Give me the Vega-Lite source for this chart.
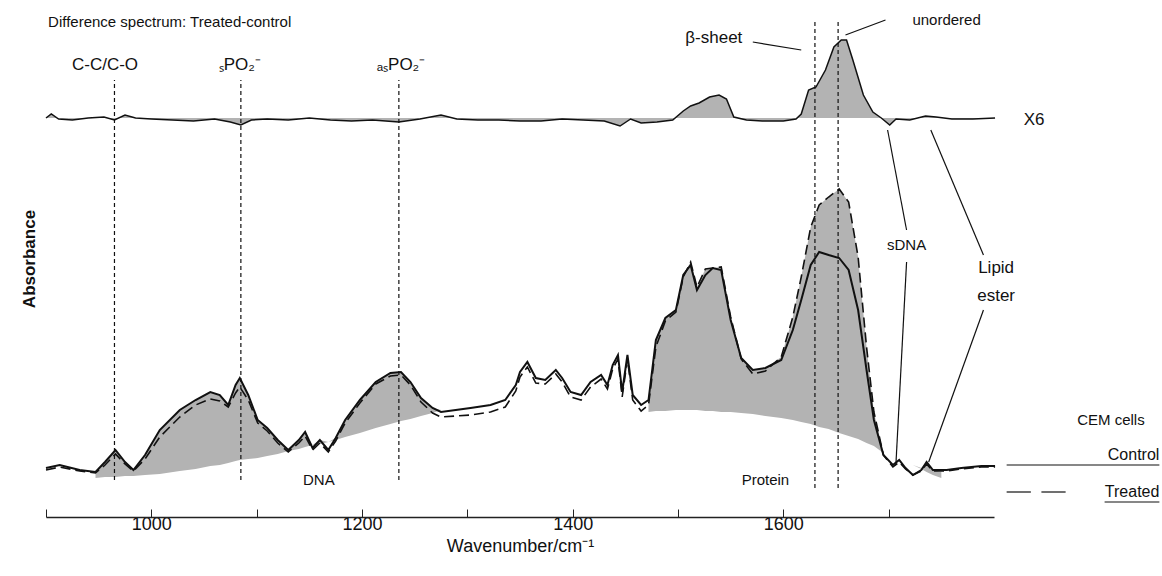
{
  "$schema": "https://vega.github.io/schema/vega-lite/v6.json",
  "width": 948,
  "height": 517,
  "autosize": "none",
  "padding": {"left": 46, "top": 0, "right": 168, "bottom": 59},
  "background": "white",
  "config": {"view": {"stroke": null}, "font": "Liberation Sans"},
  "datasets": {
    "control": [
      {"w":900,"v":49},{"w":913,"v":52},{"w":932,"v":47},{"w":947,"v":45},{"w":956,"v":55},{"w":966,"v":67},{"w":975,"v":55},{"w":983,"v":47},{"w":994,"v":62},{"w":1008,"v":87},{"w":1027,"v":107},{"w":1042,"v":117},{"w":1056,"v":125},{"w":1065,"v":122},{"w":1073,"v":112},{"w":1080,"v":132},{"w":1084,"v":139},{"w":1092,"v":122},{"w":1101,"v":97},{"w":1110,"v":89},{"w":1120,"v":77},{"w":1130,"v":67},{"w":1140,"v":77},{"w":1146,"v":85},{"w":1153,"v":69},{"w":1160,"v":77},{"w":1168,"v":67},{"w":1175,"v":79},{"w":1184,"v":97},{"w":1198,"v":117},{"w":1213,"v":135},{"w":1227,"v":144},{"w":1237,"v":145},{"w":1246,"v":135},{"w":1256,"v":119},{"w":1267,"v":109},{"w":1275,"v":105},{"w":1289,"v":107},{"w":1303,"v":109},{"w":1322,"v":112},{"w":1336,"v":117},{"w":1346,"v":132},{"w":1350,"v":145},{"w":1357,"v":155},{"w":1365,"v":139},{"w":1374,"v":137},{"w":1384,"v":147},{"w":1390,"v":139},{"w":1398,"v":125},{"w":1408,"v":122},{"w":1417,"v":135},{"w":1427,"v":142},{"w":1433,"v":132},{"w":1438,"v":152},{"w":1443,"v":162},{"w":1447,"v":125},{"w":1452,"v":162},{"w":1457,"v":122},{"w":1465,"v":112},{"w":1472,"v":117},{"w":1479,"v":177},{"w":1488,"v":199},{"w":1498,"v":207},{"w":1505,"v":242},{"w":1512,"v":252},{"w":1518,"v":227},{"w":1526,"v":242},{"w":1533,"v":249},{"w":1541,"v":247},{"w":1550,"v":197},{"w":1560,"v":159},{"w":1571,"v":147},{"w":1583,"v":149},{"w":1598,"v":157},{"w":1609,"v":187},{"w":1617,"v":217},{"w":1626,"v":252},{"w":1634,"v":265},{"w":1643,"v":262},{"w":1653,"v":259},{"w":1662,"v":247},{"w":1671,"v":207},{"w":1679,"v":147},{"w":1686,"v":97},{"w":1695,"v":62},{"w":1704,"v":52},{"w":1710,"v":57},{"w":1716,"v":49},{"w":1723,"v":42},{"w":1731,"v":47},{"w":1736,"v":55},{"w":1742,"v":47},{"w":1755,"v":47},{"w":1769,"v":49},{"w":1788,"v":51},{"w":1801,"v":51}
    ],
    "treated": [
      {"w":900,"v":47},{"w":913,"v":50},{"w":932,"v":46},{"w":947,"v":44},{"w":956,"v":52},{"w":966,"v":63},{"w":975,"v":53},{"w":983,"v":46},{"w":994,"v":58},{"w":1008,"v":80},{"w":1027,"v":100},{"w":1042,"v":112},{"w":1056,"v":118},{"w":1065,"v":116},{"w":1073,"v":110},{"w":1080,"v":124},{"w":1084,"v":130},{"w":1092,"v":117},{"w":1101,"v":94},{"w":1110,"v":86},{"w":1120,"v":74},{"w":1130,"v":65},{"w":1140,"v":74},{"w":1146,"v":81},{"w":1153,"v":67},{"w":1160,"v":74},{"w":1168,"v":65},{"w":1175,"v":76},{"w":1184,"v":94},{"w":1198,"v":114},{"w":1213,"v":133},{"w":1227,"v":141},{"w":1237,"v":142},{"w":1246,"v":132},{"w":1256,"v":115},{"w":1267,"v":104},{"w":1275,"v":100},{"w":1289,"v":101},{"w":1303,"v":102},{"w":1322,"v":105},{"w":1336,"v":110},{"w":1346,"v":126},{"w":1350,"v":140},{"w":1357,"v":150},{"w":1365,"v":134},{"w":1374,"v":133},{"w":1384,"v":143},{"w":1390,"v":135},{"w":1398,"v":120},{"w":1408,"v":117},{"w":1417,"v":130},{"w":1427,"v":138},{"w":1433,"v":128},{"w":1438,"v":148},{"w":1443,"v":158},{"w":1447,"v":120},{"w":1452,"v":158},{"w":1457,"v":117},{"w":1465,"v":106},{"w":1472,"v":112},{"w":1479,"v":170},{"w":1488,"v":196},{"w":1498,"v":205},{"w":1505,"v":240},{"w":1512,"v":255},{"w":1518,"v":230},{"w":1526,"v":248},{"w":1533,"v":249},{"w":1541,"v":250},{"w":1550,"v":200},{"w":1560,"v":158},{"w":1571,"v":143},{"w":1583,"v":146},{"w":1598,"v":160},{"w":1609,"v":200},{"w":1617,"v":240},{"w":1626,"v":290},{"w":1634,"v":312},{"w":1643,"v":320},{"w":1653,"v":328},{"w":1662,"v":315},{"w":1671,"v":260},{"w":1679,"v":170},{"w":1686,"v":105},{"w":1695,"v":62},{"w":1704,"v":50},{"w":1710,"v":55},{"w":1716,"v":48},{"w":1723,"v":42},{"w":1731,"v":46},{"w":1736,"v":53},{"w":1742,"v":46},{"w":1755,"v":46},{"w":1769,"v":48},{"w":1788,"v":50},{"w":1801,"v":50}
    ],
    "fill": [
      {"band":"dna","w":947,"top":45,"base":39},{"band":"dna","w":956,"top":55,"base":40},{"band":"dna","w":966,"top":67,"base":40},{"band":"dna","w":975,"top":55,"base":41},{"band":"dna","w":983,"top":47,"base":41},{"band":"dna","w":994,"top":62,"base":42},{"band":"dna","w":1008,"top":87,"base":43},{"band":"dna","w":1027,"top":107,"base":46},{"band":"dna","w":1042,"top":117,"base":48},{"band":"dna","w":1056,"top":125,"base":51},{"band":"dna","w":1065,"top":122,"base":52},{"band":"dna","w":1073,"top":112,"base":54},{"band":"dna","w":1080,"top":132,"base":56},{"band":"dna","w":1084,"top":139,"base":57},{"band":"dna","w":1092,"top":122,"base":58},{"band":"dna","w":1101,"top":97,"base":59},{"band":"dna","w":1110,"top":89,"base":61},{"band":"dna","w":1120,"top":77,"base":63},{"band":"dna","w":1130,"top":67,"base":66},{"band":"dna","w":1140,"top":77,"base":68},{"band":"dna","w":1146,"top":85,"base":70},{"band":"dna","w":1153,"top":72,"base":72},{"band":"dna","w":1160,"top":77,"base":73},{"band":"dna","w":1168,"top":75,"base":75},{"band":"dna","w":1175,"top":79,"base":77},{"band":"dna","w":1184,"top":97,"base":80},{"band":"dna","w":1198,"top":117,"base":84},{"band":"dna","w":1213,"top":135,"base":89},{"band":"dna","w":1227,"top":144,"base":93},{"band":"dna","w":1237,"top":145,"base":96},{"band":"dna","w":1246,"top":135,"base":98},{"band":"dna","w":1256,"top":119,"base":101},{"band":"dna","w":1267,"top":109,"base":104},{"band":"dna","w":1275,"top":107,"base":107},
      {"band":"protein","w":1472,"top":112,"base":105},{"band":"protein","w":1479,"top":177,"base":106},{"band":"protein","w":1488,"top":199,"base":106},{"band":"protein","w":1498,"top":207,"base":107},{"band":"protein","w":1505,"top":242,"base":107},{"band":"protein","w":1512,"top":255,"base":107},{"band":"protein","w":1518,"top":230,"base":107},{"band":"protein","w":1526,"top":248,"base":106},{"band":"protein","w":1533,"top":249,"base":106},{"band":"protein","w":1541,"top":250,"base":105},{"band":"protein","w":1550,"top":200,"base":105},{"band":"protein","w":1560,"top":159,"base":104},{"band":"protein","w":1571,"top":147,"base":103},{"band":"protein","w":1583,"top":149,"base":101},{"band":"protein","w":1598,"top":160,"base":99},{"band":"protein","w":1609,"top":200,"base":97},{"band":"protein","w":1617,"top":240,"base":95},{"band":"protein","w":1626,"top":290,"base":93},{"band":"protein","w":1634,"top":312,"base":90},{"band":"protein","w":1643,"top":320,"base":88},{"band":"protein","w":1653,"top":328,"base":84},{"band":"protein","w":1662,"top":315,"base":81},{"band":"protein","w":1671,"top":260,"base":78},{"band":"protein","w":1679,"top":170,"base":74},{"band":"protein","w":1686,"top":105,"base":71},{"band":"protein","w":1695,"top":64,"base":64},{"band":"protein","w":1704,"top":60,"base":60},{"band":"protein","w":1710,"top":58,"base":58},{"band":"protein","w":1716,"top":55,"base":55},{"band":"protein","w":1723,"top":52,"base":52},{"band":"protein","w":1731,"top":49,"base":48},{"band":"protein","w":1736,"top":55,"base":45},{"band":"protein","w":1742,"top":47,"base":42},{"band":"protein","w":1750,"top":45,"base":39}
    ],
    "diff": [
      {"w":900,"v":399},{"w":905,"v":403},{"w":912,"v":398},{"w":925,"v":397},{"w":940,"v":399},{"w":955,"v":400},{"w":965,"v":397},{"w":975,"v":402},{"w":985,"v":399},{"w":1000,"v":398},{"w":1020,"v":397},{"w":1040,"v":396},{"w":1060,"v":398},{"w":1075,"v":395},{"w":1085,"v":392},{"w":1095,"v":397},{"w":1110,"v":398},{"w":1130,"v":397},{"w":1150,"v":399},{"w":1170,"v":397},{"w":1190,"v":396},{"w":1210,"v":397},{"w":1235,"v":395},{"w":1255,"v":398},{"w":1275,"v":402},{"w":1290,"v":398},{"w":1310,"v":397},{"w":1330,"v":397},{"w":1350,"v":396},{"w":1370,"v":396},{"w":1390,"v":398},{"w":1410,"v":397},{"w":1430,"v":396},{"w":1445,"v":391},{"w":1455,"v":398},{"w":1465,"v":394},{"w":1480,"v":395},{"w":1495,"v":397},{"w":1505,"v":406},{"w":1512,"v":411},{"w":1520,"v":414},{"w":1530,"v":420},{"w":1539,"v":422},{"w":1546,"v":418},{"w":1553,"v":400},{"w":1565,"v":397},{"w":1580,"v":396},{"w":1600,"v":396},{"w":1612,"v":398},{"w":1617,"v":403},{"w":1624,"v":427},{"w":1631,"v":430},{"w":1640,"v":447},{"w":1648,"v":470},{"w":1655,"v":477},{"w":1660,"v":477},{"w":1666,"v":457},{"w":1676,"v":422},{"w":1685,"v":405},{"w":1693,"v":399},{"w":1701,"v":392},{"w":1707,"v":398},{"w":1720,"v":397},{"w":1735,"v":401},{"w":1745,"v":400},{"w":1760,"v":398},{"w":1780,"v":398},{"w":1801,"v":399}
    ],
    "vlines": [
      {"w":965,"y1":37,"y2":437},{"w":1085,"y1":37,"y2":437},{"w":1235,"y1":37,"y2":437},{"w":1630,"y1":29,"y2":497},{"w":1652,"y1":29,"y2":497}
    ],
    "arrows": [
      {"w1":1571,"v1":475,"w2":1617,"v2":467},
      {"w1":1697,"v1":497,"w2":1659,"v2":482},
      {"w1":1717,"v1":287,"w2":1699,"v2":387},
      {"w1":1717,"v1":255,"w2":1707,"v2":55},
      {"w1":1790,"v1":262,"w2":1740,"v2":387},
      {"w1":1790,"v1":207,"w2":1738,"v2":55},
      {"w1":1812,"v1":52,"w2":1957,"v2":52},
      {"w1":1905,"v1":15,"w2":1957,"v2":15},
      {"w1":1812,"v1":25,"w2":1835,"v2":25},
      {"w1":1845,"v1":25,"w2":1868,"v2":25}
    ],
    "labels": [
      {"w":902,"v":495,"t":"Difference spectrum:  Treated-control","kind":"left"},
      {"w":956,"v":452,"t":"C-C/C-O","kind":"big"},
      {"w":1084,"v":452,"t":"ₛPO₂⁻","kind":"big"},
      {"w":1237,"v":452,"t":"ₐₛPO₂⁻","kind":"big"},
      {"w":1534,"v":479,"t":"β-sheet","kind":"big"},
      {"w":1755,"v":497,"t":"unordered","kind":"mid"},
      {"w":1838,"v":397,"t":"X6","kind":"big"},
      {"w":1717,"v":272,"t":"sDNA","kind":"mid"},
      {"w":1802,"v":249,"t":"Lipid","kind":"big"},
      {"w":1802,"v":221,"t":"ester","kind":"big"},
      {"w":1159,"v":37,"t":"DNA","kind":"mid"},
      {"w":1583,"v":37,"t":"Protein","kind":"mid"},
      {"w":1911,"v":97,"t":"CEM cells","kind":"mid"},
      {"w":1957,"v":62,"t":"Control","kind":"right"},
      {"w":1957,"v":25,"t":"Treated","kind":"right"}
    ]
  },
  "encoding": {
    "x": {"field": "w", "type": "quantitative",
      "scale": {"domain": [900, 1800], "nice": false},
      "axis": {"values": [900,1000,1100,1200,1300,1400,1500,1600,1700], "labelExpr": "datum.value % 200 == 0 && datum.value >= 1000 && datum.value <= 1600 ? datum.label : ''",
        "format": "d", "tickSize": -8, "tickColor": "#222", "domainColor": "#222", "domainWidth": 1.5, "labelFontSize": 18, "labelColor": "#111", "labelPadding": 6,
        "grid": false, "title": "Wavenumber/cm⁻¹", "titleFontSize": 18, "titleFontWeight": "normal", "titleColor": "#111", "titlePadding": 4}},
    "y": {"field": "v", "type": "quantitative",
      "scale": {"domain": [0, 517], "nice": false},
      "axis": {"domain": false, "ticks": false, "labels": false, "grid": false, "title": "Absorbance", "titleFontSize": 17, "titleFontWeight": "bold", "titlePadding": 8, "titleColor": "#111"}}
  },
  "layer": [
    {"data": {"name": "fill"}, "mark": {"type": "area", "color": "#b3b3b3"},
      "encoding": {"detail": {"field": "band"}, "y": {"field": "top", "type": "quantitative"}, "y2": {"field": "base"}}},
    {"data": {"name": "diff"}, "mark": {"type": "area", "color": "#b3b3b3"},
      "encoding": {"y2": {"datum": 399}}},
    {"data": {"name": "diff"}, "mark": {"type": "line", "color": "#111", "strokeWidth": 1.5}, "encoding": {}},
    {"data": {"name": "vlines"}, "mark": {"type": "rule", "color": "#111", "strokeDash": [4, 3], "strokeWidth": 1.2},
      "encoding": {"y": {"field": "y1", "type": "quantitative"}, "y2": {"field": "y2"}}},
    {"data": {"name": "control"}, "mark": {"type": "line", "color": "#111", "strokeWidth": 2}, "encoding": {}},
    {"data": {"name": "treated"}, "mark": {"type": "line", "color": "#111", "strokeWidth": 1.6, "strokeDash": [10, 5]}, "encoding": {}},
    {"data": {"name": "arrows"}, "mark": {"type": "rule", "color": "#111", "strokeWidth": 1.2},
      "encoding": {"x": {"field": "w1", "type": "quantitative"}, "x2": {"field": "w2"}, "y": {"field": "v1", "type": "quantitative"}, "y2": {"field": "v2"}}},
    {"data": {"name": "labels"}, "transform": [{"filter": "datum.kind == 'left'"}],
      "mark": {"type": "text", "align": "left", "fontSize": 15, "color": "#111"},
      "encoding": {"text": {"field": "t"}}},
    {"data": {"name": "labels"}, "transform": [{"filter": "datum.kind == 'big'"}],
      "mark": {"type": "text", "align": "center", "fontSize": 17, "color": "#111"},
      "encoding": {"text": {"field": "t"}}},
    {"data": {"name": "labels"}, "transform": [{"filter": "datum.kind == 'mid'"}],
      "mark": {"type": "text", "align": "center", "fontSize": 15, "color": "#111"},
      "encoding": {"text": {"field": "t"}}},
    {"data": {"name": "labels"}, "transform": [{"filter": "datum.kind == 'right'"}],
      "mark": {"type": "text", "align": "right", "fontSize": 16, "color": "#111"},
      "encoding": {"text": {"field": "t"}}}
  ]
}
